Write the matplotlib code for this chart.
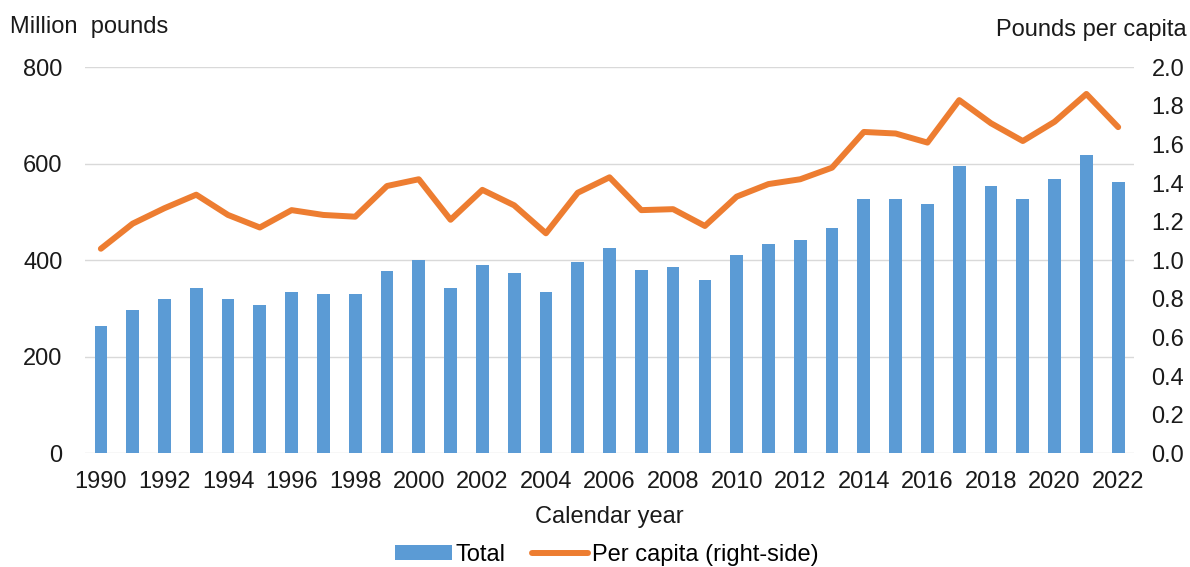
import numpy as np
import matplotlib.pyplot as plt

plt.rcParams['font.family'] = ['Liberation Sans', 'DejaVu Sans']

years = list(range(1990, 2023))
total = [264, 297, 320, 343, 320, 307, 334, 330, 330, 377, 400,
         343, 390, 373, 334, 396, 426, 379, 387, 360, 410, 433,
         443, 466, 528, 528, 516, 595, 555, 528, 569, 618, 562]
per_capita = [1.06, 1.19, 1.27, 1.34, 1.235, 1.17, 1.26, 1.235, 1.226, 1.385, 1.42,
              1.21, 1.365, 1.285, 1.14, 1.35, 1.43, 1.26, 1.265, 1.178, 1.33, 1.395,
              1.42, 1.48, 1.665, 1.657, 1.61, 1.83, 1.71, 1.618, 1.718, 1.862, 1.69]
xtick_years = list(range(1990, 2023, 2))

blue = '#5B9BD5'
orange = '#ED7D31'
grid_c = '#D9D9D9'
fs = 17

fig = plt.figure(figsize=(11.9, 5.67), dpi=100)
ax = fig.add_axes([0.0714, 0.2005, 0.8816, 0.6808])
ax2 = ax.twinx()

x = np.arange(len(years))
ax.bar(x, total, width=0.4, color=blue, zorder=3, label='Total')
ax2.plot(x, per_capita, color=orange, lw=4.3, solid_joinstyle='round',
         solid_capstyle='round', label='Per capita (right-side)')

ax.set_xlim(-0.5, len(years) - 0.5)
ax.set_ylim(0, 800)
ax.set_yticks(range(0, 801, 200))
ax2.set_ylim(0, 2.0)
ax2.set_yticks(np.arange(0, 2.01, 0.2))
ax2.set_yticklabels([f'{v:.1f}' for v in np.arange(0, 2.01, 0.2)])

ax.set_xticks([years.index(y) for y in xtick_years])
ax.set_xticklabels([str(y) for y in xtick_years])

ax.grid(axis='y', color=grid_c, lw=1, zorder=0)
ax.set_axisbelow(True)
for a in (ax, ax2):
    for s in a.spines.values():
        s.set_visible(False)
    a.tick_params(length=0, labelsize=fs, colors='#1a1a1a')
ax.tick_params(axis='y', pad=16)
ax.tick_params(axis='x', pad=13)
ax2.tick_params(axis='y', pad=12.5)

fig.text(0.008, 0.953, 'Million  pounds', fontsize=fs, va='center', ha='left', color='#1a1a1a')
fig.text(0.9975, 0.947, 'Pounds per capita', fontsize=fs, va='center', ha='right', color='#1a1a1a')
ax.set_xlabel('Calendar year', fontsize=fs, color='#1a1a1a', labelpad=9)

h1, l1 = ax.get_legend_handles_labels()
h2, l2 = ax2.get_legend_handles_labels()
fig.legend(h1 + h2, l1 + l2, loc='center', bbox_to_anchor=(0.51, 0.022), ncol=2,
           frameon=False, fontsize=fs, handlelength=2.4, handletextpad=0.15,
           columnspacing=1.1, handleheight=0.6)

fig.savefig('out.png', dpi=100)
